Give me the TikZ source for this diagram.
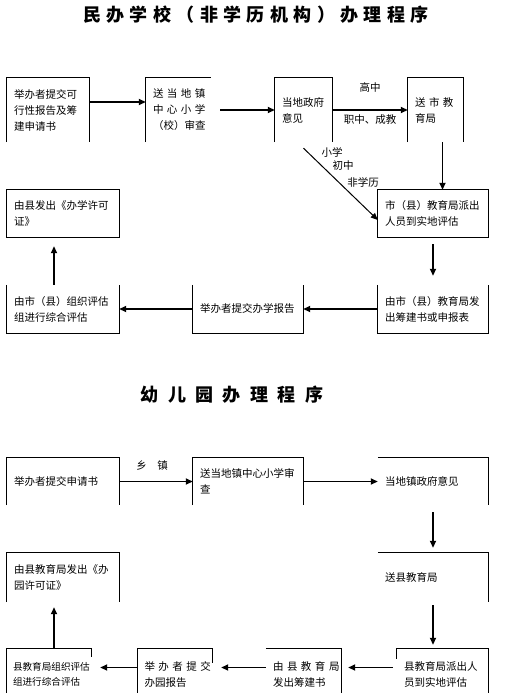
\documentclass[tikz,border=0pt]{standalone}
\usepackage{fontspec}
\setmainfont{Noto Sans CJK SC}
\newfontfamily\titlefontA[LetterSpace=30]{Noto Sans CJK SC}
\newfontfamily\titlefontB[LetterSpace=52]{Noto Sans CJK SC}
\usetikzlibrary{arrows.meta, positioning}

\tikzset{
  box/.style = {inner xsep=7pt, inner ysep=0pt, align=left, font=\fontsize{10.5}{16}\selectfont},
  arr/.style = {line width=1.8pt, -{Triangle[length=7pt,width=6pt]}},
  thinarr/.style = {line width=1pt, -{Triangle[length=7pt,width=6pt]}},
  edge/.style = {line width=0.8pt},
  lbl/.style = {inner sep=1pt, font=\fontsize{10.5}{12}\selectfont},
  ttl/.style = {inner sep=0pt, font=\bfseries\fontsize{18}{20}\selectfont},
}

\begin{document}
\begin{tikzpicture}[x=1pt, y=-1pt]
  \useasboundingbox (0,0) rectangle (512,693);

  % first chart
  \node[ttl] (title1) at (256,15) {\titlefontA 民办学校（非学历机构）办理程序};

  \node[box, text width=68pt, minimum height=64pt] (apply) at (48,110) {举办者提交可\\行性报告及筹\\建申请书};
  \node[box, text width=51pt, minimum height=64pt] (school) at (178.5,110) {送~当~地~镇\\中~心~小~学\\（校）审查};
  \node[box, text width=43pt, minimum height=64pt] (gov) at (303.5,110) {当地政府\\意见};
  \node[box, text width=41pt, minimum height=64pt] (city) at (435.5,110) {送~市~教\\育局};
  \node[box, text width=96pt, minimum height=47pt] (visit) at (433,213.5) {市（县）教育局派出\\人员到实地评估};
  \node[box, text width=98pt, minimum height=47pt] (licence) at (63,213.5) {由县发出《办学许可\\证》};
  \node[box, text width=96pt, minimum height=48pt] (issue) at (433,309) {由市（县）教育局发\\出筹建书或申报表};
  \node[box, text width=96pt, minimum height=48pt] (report) at (248,309) {举办者提交办学报告};
  \node[box, text width=98pt, minimum height=48pt] (review) at (63,309) {由市（县）组织评估\\组进行综合评估};

  \draw[edge] (apply.south west) -- (apply.north west) -- (apply.north east) -- (apply.south east);
  \draw[edge] (school.south west) -- (school.north west) -- (school.north east);
  \draw[edge] (gov.south west) -- (gov.north west) -- (gov.north east) -- (gov.south east);
  \draw[edge] (city.south west) -- (city.north west) -- (city.north east) -- (city.south east);
  \draw[edge] (visit.south west) rectangle (visit.north east);
  \draw[edge] (licence.south west) rectangle (licence.north east);
  \draw[edge] (issue.north west) -- (issue.south west) -- (issue.south east) -- (issue.north east);
  \draw[edge] (report.north west) -- (report.south west) -- (report.south east) -- (report.north east);
  \draw[edge] (review.north west) -- (review.south west) -- (review.south east) -- (review.north east);

  \draw[arr] ([yshift=8pt]apply.east) -- ([yshift=8pt]school.west);
  \draw[arr, shorten <=9pt] (school.east) -- (gov.west);
  \draw[arr] (gov.east) -- node[lbl, above=16pt] (gz) {高中} node[lbl, below=3pt] (zc) {职中、成教} (city.west);
  \draw[arr] ([xshift=7pt]city.south) -- ([xshift=7pt]city.south |- visit.north);
  \coordinate (fork) at ([yshift=-6pt]gov.south);
  \draw[thinarr] (fork) -- ([yshift=-6.5pt]visit.west);
  \node[lbl] (xx) at (332,152) {小学};
  \node[lbl] (cz) at (343,166) {初中};
  \node[lbl] (fxl) at (363,182) {非学历};
  \draw[arr, shorten <=7pt, shorten >=9pt] (visit.south) -- (issue.north);
  \draw[arr] (issue.west) -- (report.east);
  \draw[arr] (report.west) -- (review.east);
  \draw[arr, shorten >=9pt] ([xshift=-9pt]review.north) -- ([xshift=-9pt]licence.south);

  % second chart
  \node[ttl] (title2) at (232,395) {\titlefontB 幼儿园办理程序};

  \node[box, text width=98pt, minimum height=47pt] (kapply) at (63,481.5) {举办者提交申请书};
  \node[box, text width=96pt, minimum height=47pt] (kschool) at (248,481.5) {送当地镇中心小学审\\查};
  \node[box, text width=96pt, minimum height=47pt] (kgov) at (433,481.5) {当地镇政府意见};
  \node[box, text width=96pt, minimum height=49pt] (kcounty) at (433,577.5) {送县教育局};
  \node[box, text width=98pt, minimum height=49pt] (klicence) at (63,577.5) {由县教育局发出《办\\园许可证》};
  \node[box, text width=77pt, minimum height=51pt] (kvisit) at (442.5,674.5) {县教育局派出人\\员到实地评估};
  \node[box, text width=61pt, minimum height=51pt] (kissue) at (303.5,674.5) {由~县~教~育~局\\发出筹建书};
  \node[box, text width=61pt, minimum height=51pt] (kreport) at (175,674.5) {举~办~者~提~交\\办园报告};
  \node[box, inner xsep=6pt, text width=72pt, minimum height=51pt, font=\fontsize{9.6}{15}\selectfont] (kreview) at (49,674.5) {县教育局组织评估\\组进行综合评估};

  \draw[edge] (kapply.south west) -- (kapply.north west) -- (kapply.north east) -- (kapply.south east);
  \draw[edge] (kschool.south west) -- (kschool.north west) -- (kschool.north east) -- (kschool.south east);
  \draw[edge] (kgov.north west) -- (kgov.north east) -- (kgov.south east);
  \draw[edge] (kcounty.north west) -- (kcounty.north east) -- (kcounty.south east);
  \draw[edge] (klicence.south west) -- (klicence.north west) -- (klicence.north east) -- (klicence.south east);
  \draw[edge] ([yshift=-10pt]kvisit.north west) -- (kvisit.north west) -- (kvisit.north east) -- (kvisit.south east);
  \draw[edge] (kissue.north west) -- (kissue.north east) -- (kissue.south east);
  \draw[edge] (kreport.south west) -- (kreport.north west) -- (kreport.north east) -- ([yshift=-14pt]kreport.north east);
  \draw[edge] (kreview.south west) -- (kreview.north west) -- (kreview.north east) -- ([yshift=-8pt]kreview.north east);

  \draw[arr] (kapply.east) -- node[lbl, above=9pt, xshift=-4pt] (xz) {乡　镇} (kschool.west);
  \draw[arr] (kschool.east) -- (kgov.west);
  \draw[arr, shorten <=7pt, shorten >=5pt] (kgov.south) -- (kcounty.north);
  \draw[arr, shorten <=3pt, shorten >=4pt] (kcounty.south) -- (kcounty.south |- kvisit.north);
  \draw[arr, shorten <=4pt, shorten >=7pt] ([yshift=7pt]kvisit.west) -- ([yshift=7pt]kvisit.west -| kissue.east);
  \draw[arr, shorten >=8.5pt] ([yshift=7pt]kissue.west) -- ([yshift=7pt]kissue.west -| kreport.east);
  \draw[arr, shorten >=9pt] ([yshift=7pt]kreport.west) -- ([yshift=7pt]kreport.west -| kreview.east);
  \draw[arr, shorten >=5pt] ([xshift=5pt]kreview.north) -- ([xshift=5pt]kreview.north |- klicence.south);
\end{tikzpicture}
\end{document}
